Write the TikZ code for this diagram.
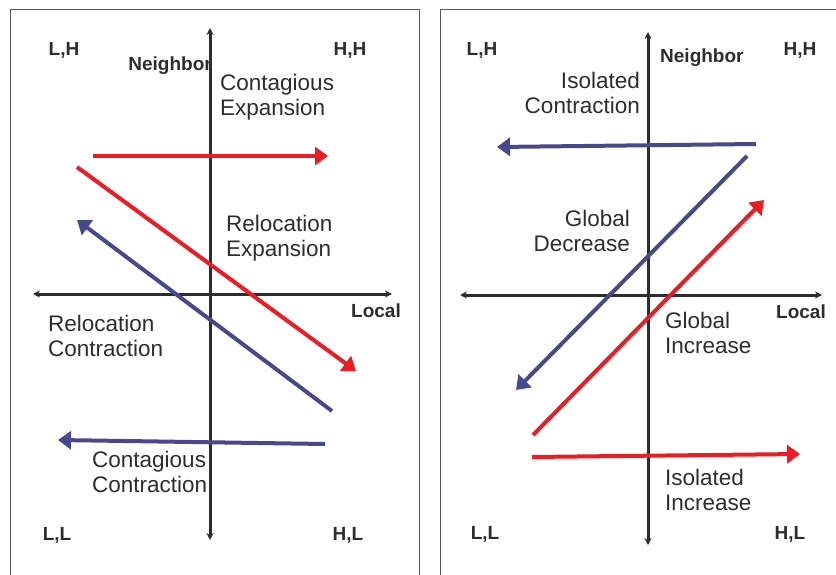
\documentclass[tikz,border=0pt]{standalone}
\usepackage{fontspec}
\setmainfont{Liberation Sans}
\usepackage{xcolor}
\usetikzlibrary{arrows.meta}

\definecolor{expred}{RGB}{237,28,36}
\definecolor{conblue}{RGB}{74,72,140}
\definecolor{axisgray}{RGB}{45,45,48}

\begin{document}
\begin{tikzpicture}[x=1pt,y=-1pt]
\tikzstyle{every node}+=[inner sep=0pt]
\tikzstyle{axisline}=[axisgray,line width=3pt,{Stealth[length=7pt,width=7pt]}-{Stealth[length=7pt,width=7pt]}]
\tikzstyle{redarrow}=[expred,line width=4pt,-{Triangle[length=13pt,width=18pt]}]
\tikzstyle{bluearrow}=[conblue,line width=4pt,-{Triangle[length=13pt,width=18pt]}]
\tikzstyle{corner}=[font=\bfseries\fontsize{19}{23}\selectfont,text=axisgray]
\tikzstyle{label}=[font=\fontsize{22.5}{25}\selectfont,text=axisgray]
\useasboundingbox (0,0) rectangle (836,575);
\draw [gray!70!black,line width=1pt] (10,590) -- (10,10) -- (419,10) -- (419,590);
\draw [gray!70!black,line width=1pt] (440,590) -- (440,10) -- (850,10);
\coordinate (ln) at (210,28);
\coordinate (ls) at (210,540);
\coordinate (lw) at (33,294);
\coordinate (le) at (392,294);
\draw [axisline] (ls) -- (ln);
\draw [axisline] (lw) -- (le);
\node [corner] (lh1) at (64,50) {L,H};
\node [corner] (hh1) at (350,50) {H,H};
\node [corner] (ll1) at (57,535) {L,L};
\node [corner] (hl1) at (348,535) {H,L};
\node [corner,anchor=east] (nb1) at (212,66) {Neighbor};
\node [corner] (loc1) at (376,311) {Local};
\node [label,align=left,anchor=west] (ce) at (220,97) {Contagious\\Expansion};
\node [label,align=left,anchor=west] (re) at (226,238) {Relocation\\Expansion};
\node [label,align=left,anchor=west] (rc) at (48,336) {Relocation\\Contraction};
\node [label,align=left,anchor=west] (cc) at (92,472) {Contagious\\Contraction};
\coordinate (ce1) at (93,156);
\coordinate (ce2) at (328,156);
\coordinate (re1) at (77,167);
\coordinate (re2) at (356,371);
\coordinate (rc1) at (332,411);
\coordinate (rc2) at (77,220);
\coordinate (cc1) at (325,444);
\coordinate (cc2) at (58,440);
\draw [redarrow] (ce1) -- (ce2);
\draw [redarrow] (re1) -- (re2);
\draw [bluearrow] (rc1) -- (rc2);
\draw [bluearrow] (cc1) -- (cc2);
\coordinate (rn) at (648,32);
\coordinate (rs) at (648,545);
\coordinate (rw) at (460,295);
\coordinate (rea) at (822,295);
\draw [axisline] (rs) -- (rn);
\draw [axisline] (rw) -- (rea);
\node [corner] (lh2) at (482,50) {L,H};
\node [corner] (hh2) at (800,50) {H,H};
\node [corner] (ll2) at (485,534) {L,L};
\node [corner] (hl2) at (790,534) {H,L};
\node [corner,anchor=west] (nb2) at (660,58) {Neighbor};
\node [corner] (loc2) at (801,312) {Local};
\node [label,align=right,anchor=east] (ic) at (640,93) {Isolated\\Contraction};
\node [label,align=right,anchor=east] (gd) at (630,231) {Global\\Decrease};
\node [label,align=left,anchor=west] (gi) at (665,333) {Global\\Increase};
\node [label,align=left,anchor=west] (ii) at (665,490) {Isolated\\Increase};
\coordinate (ic1) at (756,144);
\coordinate (ic2) at (497,147);
\coordinate (gd1) at (747,156);
\coordinate (gd2) at (516,390);
\coordinate (gi1) at (533,435);
\coordinate (gi2) at (764,200);
\coordinate (ii1) at (532,457);
\coordinate (ii2) at (800,454);
\draw [bluearrow] (ic1) -- (ic2);
\draw [bluearrow] (gd1) -- (gd2);
\draw [redarrow] (gi1) -- (gi2);
\draw [redarrow] (ii1) -- (ii2);
\end{tikzpicture}
\end{document}
